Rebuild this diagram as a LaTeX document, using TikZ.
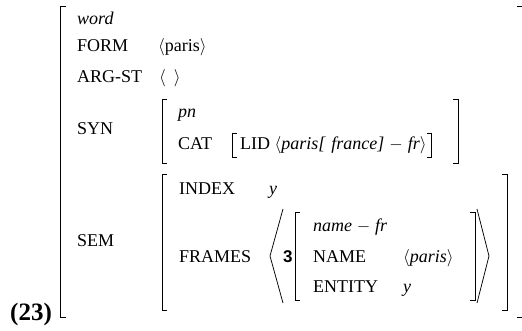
\documentclass[tikz,border=0pt]{standalone}
\usepackage{fontspec}
\setmainfont{Liberation Serif}
\newfontfamily\tagfont{Liberation Sans}
\usetikzlibrary{positioning,calc}

\begin{document}
\begin{tikzpicture}[
	x=1pt, y=-1pt,
	attr/.style={
		anchor=base west, inner sep=0pt,
		font=\fontsize{18}{21}\selectfont
	},
	typ/.style={
		attr, font=\fontsize{18}{21}\selectfont\itshape
	},
	brk/.style={
		line width=0.75pt
	},
	ex_label/.style={
		anchor=base west, inner sep=0pt,
		font=\fontsize{25}{28}\selectfont\bfseries
	},
	tag_label/.style={
		anchor=base west, inner sep=0pt,
		font=\fontsize{17}{20}\selectfont\tagfont\bfseries
	}
	]
	\useasboundingbox (0,0) rectangle (522,331);
	
	% === AVM ngoài ===
	\draw[brk] (66,6) -- (60,6) -- (60,317) -- (66,317);
	\draw[brk] (517,6) -- (522,6);
	\draw[brk] (517,317) -- (522,317);
	\node[ex_label] (ex) at (10,320) {(23)};
	
	% Dòng thuộc tính
	\node[typ] (word) at (77,25) {word};
	\node[attr] (form) at (77,52) {FORM};
	\node[attr] (argst) at (77,83) {ARG-ST};
	\node[attr] (syn) at (77,135) {SYN};
	\node[attr] (sem) at (77,247) {SEM};
	
	\node[attr] (formval) at (158,52) {$\langle$paris$\rangle$};
	\node[attr] (argval) at (159,83) {$\langle$\hspace{8pt}$\rangle$};
	
	% === SYN ===
	\draw[brk] (167,99) -- (162,99) -- (162,163) -- (167,163);
	\draw[brk] (453,99) -- (458,99) -- (458,163) -- (453,163);
	\node[typ] (pn) at (178,118) {pn};
	\node[attr] (cat) at (178,150) {CAT};
	\node[attr] (lid) at (240,150) {LID $\langle$\textit{paris[\hspace{6pt}france]}\hspace{5pt}$-$\hspace{5pt}\textit{fr}$\rangle$};
	\draw[brk] ($(lid.base west)+(-3,-17)$) -- ++(-5,0) -- ++(0,24) -- ++(5,0);
	\draw[brk] ($(lid.base east)+(0,-17)$) -- ++(5,0) -- ++(0,24) -- ++(-5,0);
	
	% === SEM ===
	\draw[brk] (167,174) -- (162,174) -- (162,310) -- (167,310);
	\draw[brk] (502,174) -- (507,174) -- (507,310) -- (502,310);
	\node[attr] (index) at (179,195) {INDEX};
	\node[typ] (indexval) at (269,195) {y};
	\node[attr] (frames) at (179,262) {FRAMES};
	
	% Danh sách FRAMES
	\draw[brk] (283,209) -- (270,256) -- (283,303);
	\draw[brk] (477,209) -- (489,256) -- (477,303);
	\node[tag_label] (tag) at (283,262) {3};
	\draw[brk] (300,212) -- (295,212) -- (295,300) -- (300,300);
	\draw[brk] (470,212) -- (475,212) -- (475,300) -- (470,300);
	\node[typ] (namefr) at (313,232) {name$\;-\;$fr};
	\node[attr] (name) at (313,262) {NAME};
	\node[attr] (nameval) at (403,262) {$\langle$\textit{paris}$\rangle$};
	\node[attr] (entity) at (313,292) {ENTITY};
	\node[typ] (entityval) at (403,292) {y};
	
\end{tikzpicture}
\end{document}
